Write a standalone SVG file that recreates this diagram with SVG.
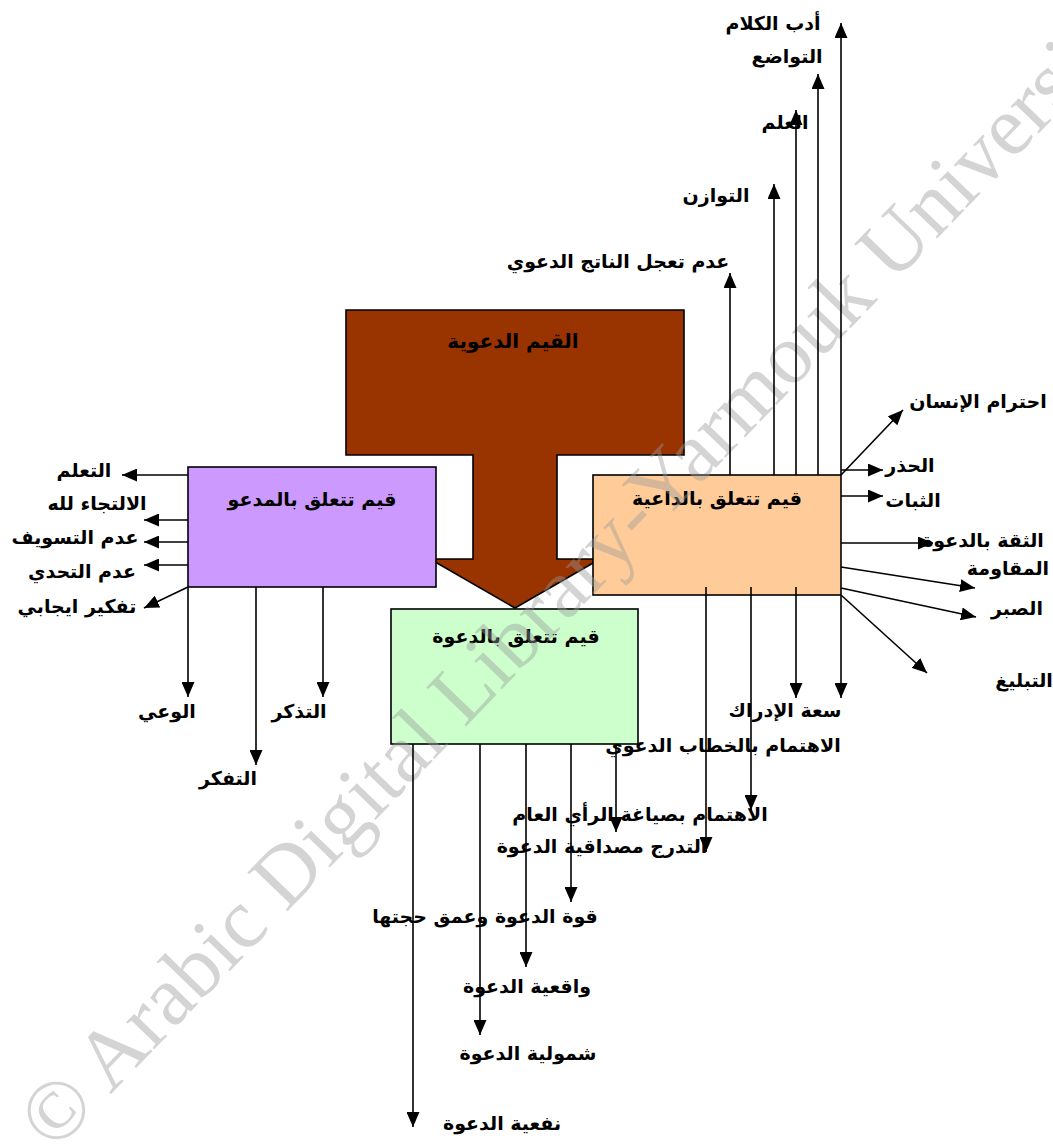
<svg xmlns="http://www.w3.org/2000/svg" width="1053" height="1144" viewBox="0 0 1053 1144">
  <style>
    .box { stroke: #000; stroke-width: 1.6; }
    .lbl { font-family: "DejaVu Sans", "Noto Sans", sans-serif; font-weight: bold; font-size: 19px; fill: #000; text-anchor: middle; }
    .ttl { font-size: 20px; }
    .con line { stroke: #000; stroke-width: 1.6; marker-end: url(#ah); }
    .wm { font-family: "Liberation Serif", "DejaVu Serif", serif; font-size: 85px; fill: #9a9a9a; opacity: 0.42; }
  </style>
  <defs>
    <marker id="ah" viewBox="0 0 15 13" refX="15" refY="6.5" markerWidth="15" markerHeight="13" markerUnits="userSpaceOnUse" orient="auto">
      <path d="M0,0 L15,6.5 L0,13 Z" fill="#000"/>
    </marker>
  </defs>
  <rect width="1053" height="1144" fill="#fff"/>

  <!-- central block arrow -->
  <g id="node-core">
    <path class="box" fill="#993300" d="M346,310 H684 V455 H557 V559 H600 L515,608 L430,559 H473 V455 H346 Z"/>
    <text class="lbl ttl" x="513" y="348">القيم الدعوية</text>
  </g>

  <!-- category boxes -->
  <g id="node-mad3u">
    <rect class="box" x="188" y="467" width="248" height="120" fill="#CC99FF"/>
    <text class="lbl" x="312" y="506">قيم تتعلق بالمدعو</text>
  </g>
  <g id="node-da3iya">
    <rect class="box" x="593" y="475" width="248" height="120" fill="#FFCC99"/>
    <text class="lbl" x="717" y="505">قيم تتعلق بالداعية</text>
  </g>
  <g id="node-da3wa">
    <rect class="box" x="391" y="609" width="247" height="135" fill="#CCFFCC"/>
    <text class="lbl" x="516" y="643">قيم تتعلق بالدعوة</text>
  </g>

  <text class="wm" transform="translate(54,1153) rotate(-46)">© Arabic Digital Library-Yarmouk University</text>

  <!-- connectors -->
  <g id="connectors" class="con">
    <!-- from the مدعو box -->
    <line x1="188" y1="475" x2="122" y2="475"/>
    <line x1="188" y1="520" x2="144" y2="520"/>
    <line x1="188" y1="542" x2="144" y2="542"/>
    <line x1="188" y1="565" x2="144" y2="565"/>
    <line x1="188" y1="587" x2="144" y2="608"/>
    <line x1="188" y1="587" x2="188" y2="697"/>
    <line x1="256" y1="587" x2="256" y2="765"/>
    <line x1="323" y1="587" x2="323" y2="697"/>
    <!-- from the داعية box, upward -->
    <line x1="730" y1="475" x2="730" y2="273"/>
    <line x1="774" y1="475" x2="774" y2="184"/>
    <line x1="796" y1="475" x2="796" y2="110"/>
    <line x1="818" y1="475" x2="818" y2="74"/>
    <line x1="841" y1="475" x2="841" y2="23"/>
    <!-- from the داعية box, rightward -->
    <line x1="841" y1="475" x2="903" y2="410"/>
    <line x1="841" y1="470" x2="883" y2="470"/>
    <line x1="841" y1="496" x2="883" y2="496"/>
    <line x1="841" y1="543" x2="933" y2="543"/>
    <line x1="841" y1="567" x2="975" y2="588"/>
    <line x1="841" y1="588" x2="976" y2="617"/>
    <line x1="841" y1="595" x2="927" y2="673"/>
    <!-- from the داعية box, downward -->
    <line x1="706" y1="587" x2="706" y2="852"/>
    <line x1="751" y1="587" x2="751" y2="810"/>
    <line x1="796" y1="587" x2="796" y2="698"/>
    <line x1="841" y1="595" x2="841" y2="698"/>
    <!-- from the دعوة box -->
    <line x1="413" y1="744" x2="413" y2="1127"/>
    <line x1="480" y1="744" x2="480" y2="1035"/>
    <line x1="526" y1="744" x2="526" y2="967"/>
    <line x1="571" y1="744" x2="571" y2="902"/>
    <line x1="616" y1="744" x2="616" y2="832"/>
  </g>

  <!-- value labels -->
  <g id="labels-mad3u">
    <text class="lbl" x="84" y="477">التعلم</text>
    <text class="lbl" x="97" y="510">الالتجاء لله</text>
    <text class="lbl" x="75" y="544">عدم التسويف</text>
    <text class="lbl" x="82" y="578">عدم التحدي</text>
    <text class="lbl" x="77" y="613">تفكير ايجابي</text>
    <text class="lbl" x="167" y="718">الوعي</text>
    <text class="lbl" x="228" y="785">التفكر</text>
    <text class="lbl" x="299" y="718">التذكر</text>
  </g>
  <g id="labels-da3iya">
    <text class="lbl" x="773" y="30">أدب الكلام</text>
    <text class="lbl" x="787" y="63">التواضع</text>
    <text class="lbl" x="785" y="129">العلم</text>
    <text class="lbl" x="716" y="202">التوازن</text>
    <text class="lbl" x="618" y="268">عدم تعجل الناتج الدعوي</text>
    <text class="lbl" x="978" y="408">احترام الإنسان</text>
    <text class="lbl" x="910" y="472">الحذر</text>
    <text class="lbl" x="913" y="507">الثبات</text>
    <text class="lbl" x="983" y="547">الثقة بالدعوة</text>
    <text class="lbl" x="1008" y="575">المقاومة</text>
    <text class="lbl" x="1017" y="615">الصبر</text>
    <text class="lbl" x="1024" y="687">التبليغ</text>
    <text class="lbl" x="785" y="717">سعة الإدراك</text>
    <text class="lbl" x="723" y="752">الاهتمام بالخطاب الدعوي</text>
    <text class="lbl" x="640" y="821">الاهتمام بصياغة الرأي العام</text>
    <text class="lbl" x="602" y="853">التدرج  مصداقية الدعوة</text>
  </g>
  <g id="labels-da3wa">
    <text class="lbl" x="485" y="923">قوة الدعوة وعمق حجتها</text>
    <text class="lbl" x="527" y="993">واقعية الدعوة</text>
    <text class="lbl" x="528" y="1060">شمولية الدعوة</text>
    <text class="lbl" x="502" y="1130">نفعية الدعوة</text>
  </g>
</svg>
